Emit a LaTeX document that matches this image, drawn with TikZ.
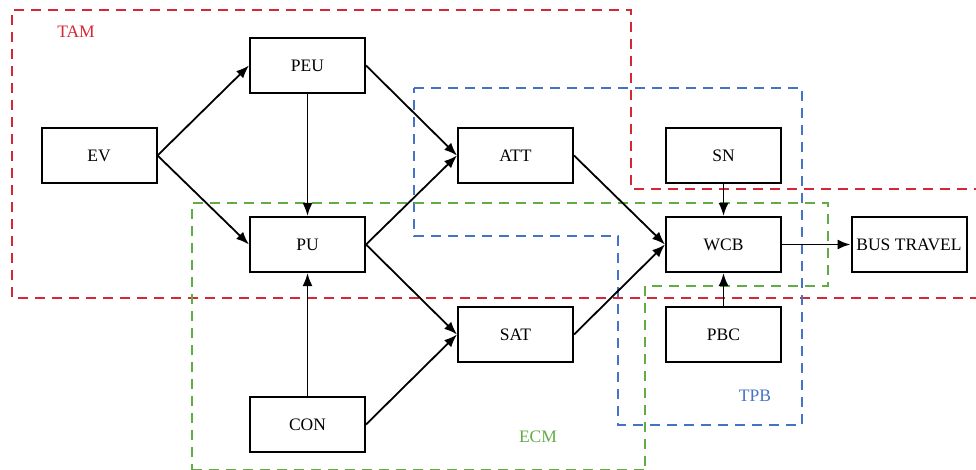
\documentclass[tikz,border=0pt]{standalone}
\usepackage{fontspec}
\setmainfont{Liberation Serif}
\usetikzlibrary{arrows.meta}
\definecolor{tamred}{RGB}{214,40,52}
\definecolor{tpbblue}{RGB}{68,114,196}
\definecolor{ecmgreen}{RGB}{96,172,70}
\begin{document}
\begin{tikzpicture}[x=1pt,y=-1pt,
  box/.style={draw,line width=2pt,minimum width=115pt,minimum height=55pt,inner sep=0pt,font=\fontsize{17.5}{20}\selectfont},
  conn/.style={line width=1.8pt,-{Latex[length=13pt,width=10pt]}},
  region/.style={line width=1.8pt,dash pattern=on 10pt off 7pt},
  lab/.style={font=\fontsize{17.5}{20}\selectfont}]
\useasboundingbox (0,0) rectangle (976,470);
% regions
\draw[region,tamred] (980,298) -- (12,298) -- (12,10) -- (631,10) -- (631,189) -- (980,189);
\draw[region,tpbblue] (414,88) -- (802,88) -- (802,425) -- (618,425) -- (618,236) -- (414,236) -- cycle;
\draw[region,ecmgreen] (192,474) -- (192,203) -- (828,203) -- (828,286) -- (645,286) -- (645,474);
\draw[region,ecmgreen,line width=1pt] (192,469) -- (645,469);
\node[lab,text=tamred] (tam) at (76,32) {TAM};
\node[lab,text=tpbblue] (tpb) at (755,396) {TPB};
\node[lab,text=ecmgreen] (ecm) at (538,437) {ECM};
% nodes
\node[box] (ev) at (99,155.5) {EV};
\node[box] (peu) at (307.5,65.5) {PEU};
\node[box] (pu) at (307.5,244.5) {PU};
\node[box] (att) at (515.5,155.5) {ATT};
\node[box] (sn) at (723.5,155.5) {SN};
\node[box] (wcb) at (723.5,244.5) {WCB};
\node[box] (bus) at (909,244.5) {BUS TRAVEL};
\node[box] (sat) at (515.5,334.5) {SAT};
\node[box] (pbc) at (723.5,334.5) {PBC};
\node[box] (con) at (307.5,424.5) {CON};
% connectors
\draw[conn] (ev.east) -- (peu.west);
\draw[conn] (ev.east) -- (pu.west);
\draw[conn] (peu.south) -- (pu.north);
\draw[conn] (con.north) -- (pu.south);
\draw[conn] (peu.east) -- (att.west);
\draw[conn] (pu.east) -- (att.west);
\draw[conn] (pu.east) -- (sat.west);
\draw[conn] (con.east) -- (sat.west);
\draw[conn] (att.east) -- (wcb.west);
\draw[conn] (sat.east) -- (wcb.west);
\draw[conn] (sn.south) -- (wcb.north);
\draw[conn] (pbc.north) -- (wcb.south);
\draw[conn] (wcb.east) -- (bus.west);
\end{tikzpicture}
\end{document}
